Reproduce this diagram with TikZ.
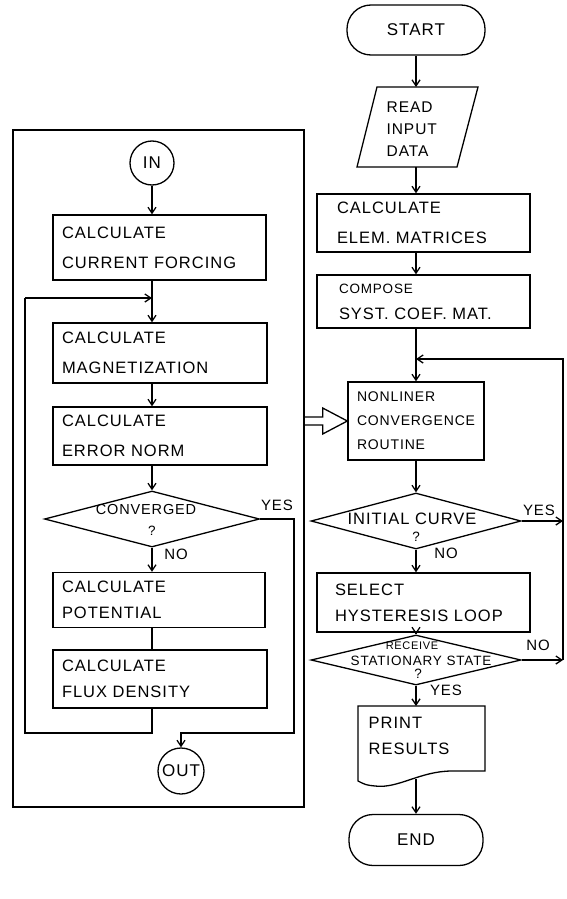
\documentclass[tikz,border=0pt]{standalone}
\usepackage{fontspec}
\setmainfont{Liberation Sans}[LetterSpace=6]
\usetikzlibrary{shapes.geometric,arrows.meta,calc}
\newcommand{\zbig}{\fontsize{16.5}{30}\selectfont}
\newcommand{\zsel}{\fontsize{16.5}{26}\selectfont}
\newcommand{\zmid}{\fontsize{15}{20}\selectfont}
\newcommand{\zterm}{\fontsize{17}{20}\selectfont}
\newcommand{\zsma}{\fontsize{13.5}{20}\selectfont}
\newcommand{\zconv}{\fontsize{14.5}{20}\selectfont}
\newcommand{\zinit}{\fontsize{16.5}{20}\selectfont}
\newcommand{\ztiny}{\fontsize{11}{14}\selectfont}
\newcommand{\zread}{\fontsize{15.5}{22}\selectfont}
\newcommand{\znl}{\fontsize{14}{24}\selectfont}
\begin{document}
\begin{tikzpicture}[x=1pt,y=-1pt, line width=1.3pt,
  arr/.style={-{Straight Barb[length=6pt,width=8pt]}},
  lbox/.style={draw, rectangle, inner xsep=9pt, inner ysep=0pt, align=left, font=\zbig},
  dia/.style={draw, diamond, inner sep=0pt},
  stad/.style={draw, rectangle, rounded corners=24pt, inner sep=0pt, font=\zterm},
  circ/.style={draw, circle, inner sep=0pt, font=\zterm},
  lab/.style={font=\zmid, inner sep=0pt}]
\useasboundingbox (0,0) rectangle (566,899);

% ---------- left: subroutine frame ----------
\node[draw, rectangle, inner sep=0pt, minimum width=291pt, minimum height=677pt] (frame) at (158.5,468.5) {};
\node[circ, minimum size=44pt] (in) at (152,163) {IN};
\node[lbox, minimum width=213pt, text width=195pt, minimum height=65pt] (cf) at (159.5,247.5) {CALCULATE\\CURRENT FORCING};
\node[lbox, minimum width=214pt, text width=196pt, minimum height=60pt] (mag) at (160,353) {CALCULATE\\MAGNETIZATION};
\node[lbox, minimum width=214pt, text width=196pt, minimum height=58pt] (err) at (160,436) {CALCULATE\\ERROR NORM};
\node[dia, minimum width=215pt, minimum height=56pt] (conv) at (152,519) {};
\node[lab, font=\zconv] (convt) at (146,510) {CONVERGED};
\node[lab, font=\zsma] (convq) at (152,531) {?};
\node[lbox, minimum width=212pt, text width=194pt, minimum height=55pt, font=\zsel] (pot) at (159,600) {CALCULATE\\POTENTIAL};
\node[lbox, minimum width=214pt, text width=196pt, minimum height=58pt, font=\zsel] (flux) at (160,679) {CALCULATE\\FLUX DENSITY};
\node[circ, minimum size=46pt] (out) at (181,771) {OUT};

\coordinate (lt) at (25,298);
\coordinate (lb) at (25,733);
\coordinate (yr) at (294,733);

\draw[arr] (in) -- (in |- cf.north);
\draw[arr] (in |- cf.south) -- (in |- mag.north);
\draw[arr] (in |- mag.south) -- (in |- err.north);
\draw[arr] (in |- err.south) -- (conv.north);
\draw[arr] (conv.south) -- (conv.south |- pot.north);
\draw (conv.south |- pot.south) -- (conv.south |- flux.north);
\draw (conv.south |- flux.south) -- (conv.south |- lb) -- (lb) -- (lt);
\draw[arr] (lt) -- (lt -| in);
\draw[arr] (conv.east) -- (conv.east -| yr) -- (yr) -- (yr -| out) -- (out.north);
\node[lab] (yes1) at (277,505) {YES};
\node[lab] (no1) at (176,554) {NO};

% ---------- right: main program ----------
\node[stad, minimum width=138pt, minimum height=50pt] (start) at (416,30) {START};
\coordinate (rt) at (416,87);
\coordinate (rb) at (416,167);
\draw (357,167) -- (377,87) -- (478,87) -- (457,167) -- cycle;
\node[lab, font=\zread, align=left, anchor=west] (read) at (386,129) {READ\\INPUT\\DATA};
\node[lbox, inner xsep=20pt, minimum width=213pt, text width=173pt, minimum height=58pt] (ce) at (423.5,223) {CALCULATE\\ELEM. MATRICES};
\node[lbox, inner xsep=22pt, minimum width=213pt, text width=169pt, minimum height=53pt, font=\zsel] (comp) at (423.5,301.5) {{\zsma COMPOSE}\\SYST. COEF. MAT.};
\node[lbox, inner xsep=9pt, minimum width=136pt, text width=118pt, minimum height=78pt, font=\znl] (nl) at (416,421) {NONLINER\\CONVERGENCE\\ROUTINE};
\node[dia, minimum width=210pt, minimum height=56pt] (init) at (416,521) {};
\node[lab, font=\zinit] (initt) at (412,519) {INITIAL CURVE};
\node[lab, font=\zsma] (initq) at (416,537) {?};
\node[lbox, inner xsep=18pt, minimum width=213pt, text width=177pt, minimum height=59pt, font=\zsel] (sel) at (423.5,602.5) {SELECT\\HYSTERESIS LOOP};
\node[dia, minimum width=210pt, minimum height=50pt] (rec) at (416,660) {};
\node[lab, font=\ztiny] (rect1) at (412,646) {RECEIVE};
\node[lab, font=\zsma] (rect2) at (421,661) {STATIONARY STATE};
\node[lab, font=\zsma] (recq) at (418,674) {?};
\coordinate (pt) at (416,706);
\coordinate (pb) at (416,779);
\draw (358,706) -- (485,706) -- (485,771) -- (452,771)
  .. controls (420,771) and (398,789) .. (375,786)
  .. controls (366,785) .. (358,781) -- cycle;
\node[lab, font=\zsel, align=left, anchor=west] (print) at (368,736) {PRINT\\RESULTS};
\node[stad, minimum width=134pt, minimum height=51pt] (end) at (416,840) {END};

\coordinate (f1) at (563,521);
\coordinate (f2) at (563,660);
\coordinate (f3) at (563,359);

\draw[arr] (start) -- (rt);
\draw[arr] (rb) -- (rb |- ce.north);
\draw[arr] (rb |- ce.south) -- (rb |- comp.north);
\draw[arr] (rb |- comp.south) -- (nl.north);
\draw[arr] (nl.south) -- (init.north);
\draw[arr] (init.south) -- (init.south |- sel.north);
\draw[arr] (init.south |- sel.south) -- (rec.north);
\draw[arr] (rec.south) -- (pt);
\draw[arr] (pb) -- (end.north);
\draw[arr] (init.east) -- (f1);
\draw[arr] (rec.east) -- (f2);
\draw[arr] (f2) -- (f3) -- (f3 -| start);
\node[lab] (yes2) at (539,510) {YES};
\node[lab] (no2) at (446,553) {NO};
\node[lab] (no3) at (538,645) {NO};
\node[lab] (yes3) at (446,690) {YES};

% hollow transfer arrow
\coordinate (ha) at (frame.east |- nl.west);
\draw ($(ha)+(0,-4)$) -- ($(ha)+(18,-4)$) -- ($(ha)+(18,-13)$) -- (nl.west)
  -- ($(ha)+(18,13)$) -- ($(ha)+(18,4)$) -- ($(ha)+(0,4)$);
\end{tikzpicture}
\end{document}
